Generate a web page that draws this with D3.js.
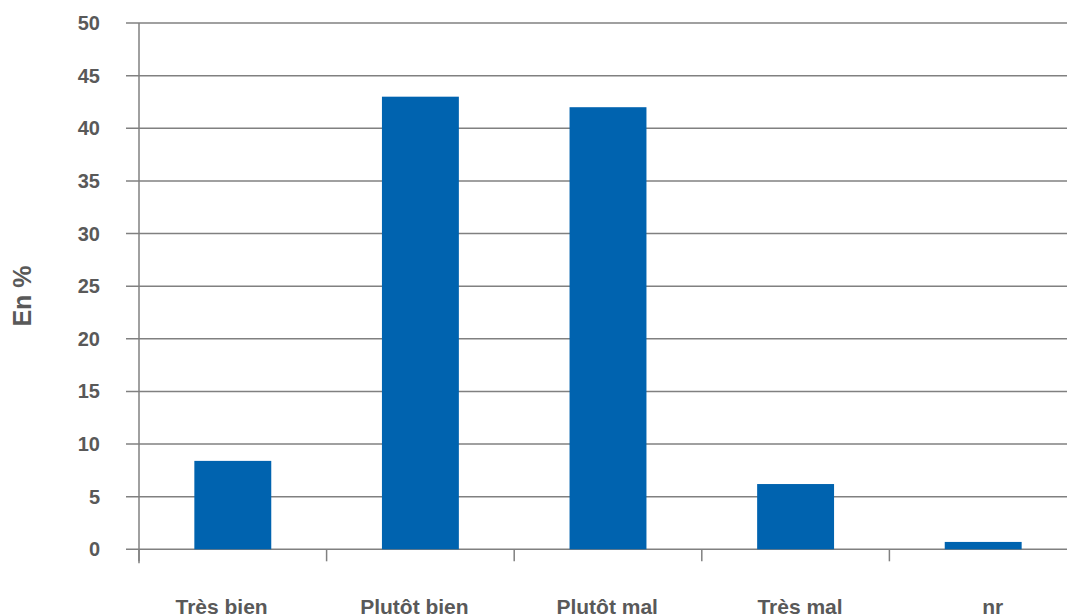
<!DOCTYPE html>
<html>
<head>
<meta charset="utf-8">
<script src="https://cdn.jsdelivr.net/npm/d3@7/dist/d3.min.js"></script>
<style>
  html, body { margin: 0; padding: 0; background: #fff; }
  svg { display: block; }
  text { font-family: "Liberation Sans", Arial, sans-serif; font-weight: bold; fill: #595959; }
</style>
</head>
<body>
<svg id="chart" width="1067" height="616"></svg>
<script>
// Réponses (en %)
const categories = ["Très bien", "Plutôt bien", "Plutôt mal", "Très mal", "nr"];
const values = [8.4, 43, 42, 6.2, 0.7];
const yTicks = [0, 5, 10, 15, 20, 25, 30, 35, 40, 45, 50];
const yLabel = "En %";

(function draw() {
  const svg = d3.select("#chart");
  const plotLeft = 139, plotTop = 23, plotBottom = 549.3;
  const step = 187.6;
  const plotRight = plotLeft + step * categories.length;

  const y = d3.scaleLinear().domain([0, 50]).range([plotBottom, plotTop]);

  // category slots (tick boundaries) and bars inside them
  const xSlot = d3.scaleBand().domain(categories).range([plotLeft, plotRight]).padding(0);
  const xBar = d3.scaleBand().domain(categories).range([plotLeft, plotRight])
    .paddingInner(0.59).paddingOuter(0.295);
  // category label positions along the bottom
  const xLabel = d3.scalePoint().domain(categories).range([221.6, 992.8]);

  const gridColor = "#808080";

  // horizontal gridlines with left tick stubs
  const gy = svg.append("g");
  gy.selectAll("line.grid").data(yTicks).join("line")
    .attr("class", "grid")
    .attr("x1", plotLeft - 13).attr("x2", 1067)
    .attr("y1", d => y(d)).attr("y2", d => y(d))
    .attr("stroke", gridColor).attr("stroke-width", 1.5);
  gy.selectAll("text").data(yTicks).join("text")
    .attr("x", 100).attr("y", d => y(d))
    .attr("dy", "0.35em")
    .attr("text-anchor", "end")
    .style("font-size", "20px")
    .text(d => d);

  // bars
  svg.append("g").selectAll("rect").data(categories).join("rect")
    .attr("x", d => xBar(d))
    .attr("width", xBar.bandwidth())
    .attr("y", (d, i) => y(values[i]))
    .attr("height", (d, i) => y(0) - y(values[i]))
    .attr("fill", "#0063AF");

  // y axis line
  svg.append("line")
    .attr("x1", plotLeft).attr("x2", plotLeft)
    .attr("y1", plotTop).attr("y2", plotBottom + 14)
    .attr("stroke", gridColor).attr("stroke-width", 1.5);

  // category boundary ticks
  svg.append("g").selectAll("line").data(categories).join("line")
    .attr("x1", d => xSlot(d)).attr("x2", d => xSlot(d))
    .attr("y1", plotBottom).attr("y2", plotBottom + 12)
    .attr("stroke", gridColor).attr("stroke-width", 1.5);

  // category labels
  svg.append("g").selectAll("text").data(categories).join("text")
    .attr("x", d => xLabel(d))
    .attr("y", 613.5)
    .attr("text-anchor", "middle")
    .style("font-size", "21px")
    .text(d => d);

  // y axis title
  svg.append("text")
    .attr("transform", "translate(31,296) rotate(-90)")
    .attr("text-anchor", "middle")
    .style("font-size", "25px")
    .text(yLabel);
})();
</script>
</body>
</html>
